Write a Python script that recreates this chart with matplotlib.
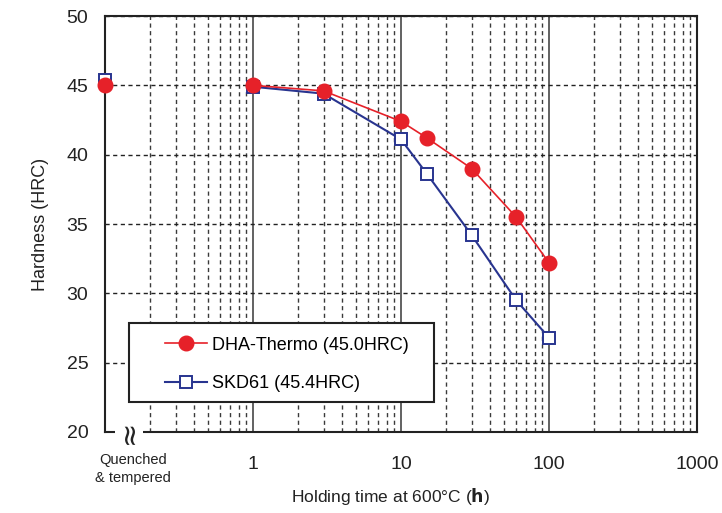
import matplotlib
matplotlib.use('Agg')
import matplotlib.pyplot as plt
from matplotlib.patches import Rectangle
from matplotlib.ticker import LogLocator, NullFormatter, FixedLocator

plt.rcParams['font.family'] = ['Liberation Sans', 'DejaVu Sans']

# ---- data ----
qt_time = 0.1  # position used for the "Quenched & tempered" state
dha_qt = 45.0
skd_qt = 45.4

time_h = [1, 3, 10, 15, 30, 60, 100]
dha_hrc = [45.0, 44.6, 42.4, 41.2, 39.0, 35.5, 32.2]
skd_hrc = [44.9, 44.4, 41.1, 38.6, 34.2, 29.5, 26.8]

dha_label = 'DHA-Thermo (45.0HRC)'
skd_label = 'SKD61 (45.4HRC)'
x_ticks = [1, 10, 100, 1000]
x_ticklabels = ['1', '10', '100', '1000']
y_ticks = [20, 25, 30, 35, 40, 45, 50]

RED = '#e62129'
BLUE = '#28348f'
INK = '#222222'

fig = plt.figure(figsize=(7.22, 5.13), dpi=100)
ax = fig.add_axes([0.1454, 0.1579, 0.8200, 0.8109])

ax.set_xscale('log')
ax.set_xlim(0.1, 1000)
ax.set_ylim(20, 50)

# grid
ax.xaxis.set_major_locator(FixedLocator(x_ticks))
ax.xaxis.set_minor_locator(LogLocator(base=10, subs=range(2, 10)))
ax.xaxis.set_minor_formatter(NullFormatter())
ax.set_xticklabels(x_ticklabels)
ax.set_yticks(y_ticks)
ax.grid(True, which='minor', axis='x', color='#3a3a3a', ls=(0, (3, 2.5)), lw=1.0)
ax.grid(True, which='major', axis='x', color='#555555', ls='-', lw=1.3)
ax.grid(True, which='major', axis='y', color=INK, ls=(0, (3, 2.5)), lw=1.0)
ax.set_axisbelow(True)

ax.tick_params(which='both', length=0)
ax.tick_params(axis='y', pad=12, labelsize=14, colors=INK)
ax.tick_params(axis='x', pad=17, labelsize=14, colors=INK)
for sp in ax.spines.values():
    sp.set_color(INK)
    sp.set_linewidth(1.5)

# series
ax.plot(time_h, dha_hrc, color=RED, lw=1.2, marker='o', ms=10.5,
        mfc=RED, mec=RED, label=dha_label, zorder=4)
ax.plot(time_h, skd_hrc, color=BLUE, lw=1.5, marker='s', ms=8.5,
        mfc='white', mec=BLUE, mew=1.4, label=skd_label, zorder=3)
ax.plot([qt_time], [skd_qt], ls='none', marker='s', ms=8.5, mfc='white',
        mec=BLUE, mew=1.4, clip_on=False, zorder=3)
ax.plot([qt_time], [dha_qt], ls='none', marker='o', ms=10.5, mfc=RED,
        mec=RED, clip_on=False, zorder=4)

# axis break mark
ax.text(0.145, 20, '≈', rotation=90, ha='center', va='center', fontsize=21,
        family=['DejaVu Sans'], color=INK,
        bbox=dict(boxstyle='square,pad=0.0', fc='white', ec='none'),
        clip_on=False, zorder=6)

ax.text(0.155, 18.45, 'Quenched\n& tempered', ha='center', va='top',
        fontsize=10.5, color=INK, linespacing=1.3)

ax.set_ylabel('Hardness (HRC)', fontsize=13, color=INK)
ax.yaxis.set_label_coords(-0.094, 0.5)
ax.set_xlabel(r'Holding time at 600°C ($\mathbf{h}$)', fontsize=12.5, color=INK)
ax.xaxis.set_label_coords(0.483, -0.13)

# legend box drawn separately, entries without frame
ax.add_patch(Rectangle((0.0405, 0.0721), 0.5152, 0.19, transform=ax.transAxes,
                       fc='white', ec=INK, lw=1.5, zorder=5))
leg = ax.legend(loc='upper left', bbox_to_anchor=(0.1014, 0.229), fontsize=13,
                frameon=False, handlelength=2.3, borderpad=0,
                labelspacing=1.17, handletextpad=0.3, borderaxespad=0)
leg.set_zorder(6)

fig.savefig('out.png', dpi=100)
